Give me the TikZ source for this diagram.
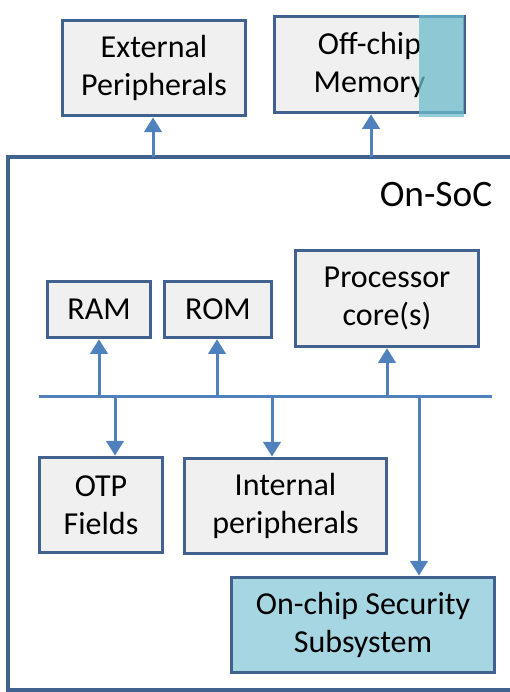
\documentclass[tikz,border=0pt]{standalone}
\usepackage{fontspec}
\setmainfont{Carlito}
\usetikzlibrary{arrows.meta}
\definecolor{bord}{RGB}{65,98,142}
\definecolor{connc}{RGB}{79,129,189}
\definecolor{boxfill}{RGB}{240,240,240}
\definecolor{secfill}{RGB}{166,214,226}
\definecolor{overlayc}{RGB}{111,187,205}
\begin{document}
\begin{tikzpicture}[x=0.75pt,y=-0.75pt,
  box/.style={draw=bord, line width=2.6pt, fill=boxfill, align=center,
    font=\fontsize{24}{28.5}\selectfont, inner sep=0pt},
  conn/.style={draw=connc, line width=2.25pt},
  arr/.style={conn, -{Triangle[width=13pt,length=11pt]}}]
\useasboundingbox (0,0) rectangle (510,692);

% outer SoC frame (right side off the picture)
\draw[draw=bord, line width=2.4pt] (520,157) -- (8,157) -- (8,690) -- (520,690);
\node[font=\fontsize{28}{34}\selectfont, inner sep=0pt] (soc) at (436,195) {On-SoC};

% external boxes
\node[box, minimum width=137pt, minimum height=71.5pt] (ext) at (154,68) {External\\Peripherals};
\node[box, minimum width=142.5pt, minimum height=72pt] (mem) at (369.5,64.5) {Off-chip\\Memory};
\fill[overlayc, fill opacity=0.75] (419,15) rectangle (464,117);

% internal boxes
\node[box, minimum width=77.5pt, minimum height=42pt] (ram) at (99,309.5) {RAM};
\node[box, minimum width=80.5pt, minimum height=42pt] (rom) at (218,309.5) {ROM};
\node[box, minimum width=137pt, minimum height=72pt] (proc) at (387,298.5) {Processor\\core(s)};
\node[box, minimum width=92.5pt, minimum height=71.5pt] (otp) at (101,505) {OTP\\Fields};
\node[box, minimum width=151.5pt, minimum height=71.5pt] (int) at (285.5,506) {Internal\\peripherals};
\node[box, fill=secfill, minimum width=197.5pt, minimum height=71.5pt] (sec) at (363,625) {On-chip Security\\Subsystem};

% frame top to external boxes
\coordinate (f1) at (153,157);
\coordinate (f2) at (371,157);
\draw[arr] (f1) -- (f1 |- ext.south);
\draw[arr] (f2) -- (f2 |- mem.south);

% bus
\coordinate (bl) at (39,396);
\coordinate (br) at (492,396);
\draw[conn] (bl) -- (br);
\coordinate (b1) at (99,396);
\coordinate (b2) at (217,396);
\coordinate (b3) at (387,396);
\coordinate (d1) at (115,396);
\coordinate (d2) at (272,396);
\coordinate (d3) at (419,396);
\draw[arr] (b1) -- (b1 |- ram.south);
\draw[arr] (b2) -- (b2 |- rom.south);
\draw[arr] (b3) -- (b3 |- proc.south);
\draw[arr] (d1) -- (d1 |- otp.north);
\draw[arr] (d2) -- (d2 |- int.north);
\draw[arr] (d3) -- (d3 |- sec.north);
\end{tikzpicture}
\end{document}
